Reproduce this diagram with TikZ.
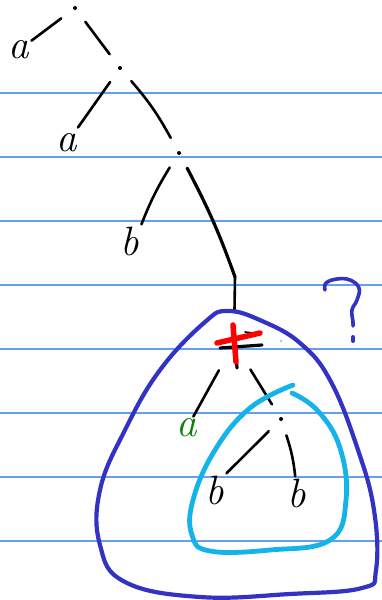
\documentclass[tikz,border=0pt]{standalone}
\definecolor{rule}{RGB}{100,160,235}
\definecolor{pen}{RGB}{50,50,195}
\definecolor{sky}{RGB}{20,180,235}
\definecolor{leafgreen}{RGB}{10,130,10}
\tikzset{
  knot/.style={circle, minimum size=34pt, inner sep=0pt,
    path picture={\fill (path picture bounding box.center) circle (2pt);}},
  leaf/.style={inner sep=2pt, font=\fontsize{41}{41}\selectfont\itshape},
  edge/.style={line width=2.6pt, line cap=round},
}
\begin{document}
\begin{tikzpicture}[x=1pt,y=-1pt]
    \useasboundingbox[fill=white] (0,0) rectangle (382,600);

    % Ruled lines
    \foreach \y in {93,157,221,285,349,413,477,541}
        \draw[rule, line width=1.4pt] (0,\y) -- (382,\y);

    % Points
    \node[knot] (r)  at (75,8) {};
    \node[knot] (n1) at (120,68) {};
    \node[knot] (n2) at (179,153) {};
    \coordinate (k) at (235,277);
    \node[circle, minimum size=62pt, inner sep=0pt] (n3) at (234,343) {};
    \node[knot] (n4) at (281,419) {};

    \node[leaf] (a1) at (19,50) {a};
    \node[leaf] (a2) at (67,143) {a};
    \node[leaf] (b1) at (130,241) {b};
    \node[leaf, leafgreen] (a3) at (187,428) {a};
    \node[leaf] (b2) at (215,490) {b};
    \node[leaf] (b3) at (297,493) {b};

    \draw[edge] (r) -- (a1);
    \draw[edge] (r) -- (n1);
    \draw[edge, shorten >=5pt] (n1) -- (a2);
    \draw[edge] (n1) to[bend left=6] (n2);
    \draw[edge] (n2) to[bend right=5] (b1.north east);
    \draw[edge, line width=3.2pt] (n2) to[bend left=4] (k);
    \draw[edge] (k) -- (n3);
    \draw[edge] (n3) -- (a3);
    \draw[edge] (n3) -- (n4);
    \draw[edge] (n4) -- (b2.north east);
    \draw[edge] (n4) to[bend left=6] (b3);

    % Cross
    \draw[line width=3.2pt, line cap=round] (234,327) -- (237,368);
    \draw[line width=3.2pt, line cap=round] (220,348) -- (262,345);
    \draw[line width=1.6pt, line cap=round] (245,332) -- (253,333);
    \fill[gray] (281,341) circle (0.8pt);
    \draw[red, line width=5.5pt, line cap=round] (217,343) -- (260,333);
    \draw[red, line width=5.5pt, line cap=round] (233,325) -- (236,362);

    % Circles
    \draw[pen, line width=4.2pt] plot[smooth cycle, tension=0.7] coordinates {
        (228,311) (262,321) (300,343) (330,380) (357,447) (374,510)
        (376,570) (362,588) (290,594) (200,597) (125,582) (100,545)
        (100,490) (125,430) (160,370) (205,322)};
    \draw[sky, line width=4.8pt, line cap=round] plot[smooth, tension=0.7] coordinates {
        (293,385) (250,408) (215,450) (193,500) (192,535) (210,551)
        (270,550) (330,540) (346,500) (340,448) (318,411) (292,393)};

    % Question mark
    \draw[pen, line width=3.6pt, line cap=round] plot[smooth, tension=0.7] coordinates {
        (325,290) (326,283) (337,279) (350,280) (359,288) (357,300) (352,310)
        (353,322) (353,326)};
    \draw[pen, line width=4pt, line cap=round] (353,337) -- (353,341);
\end{tikzpicture}
\end{document}
